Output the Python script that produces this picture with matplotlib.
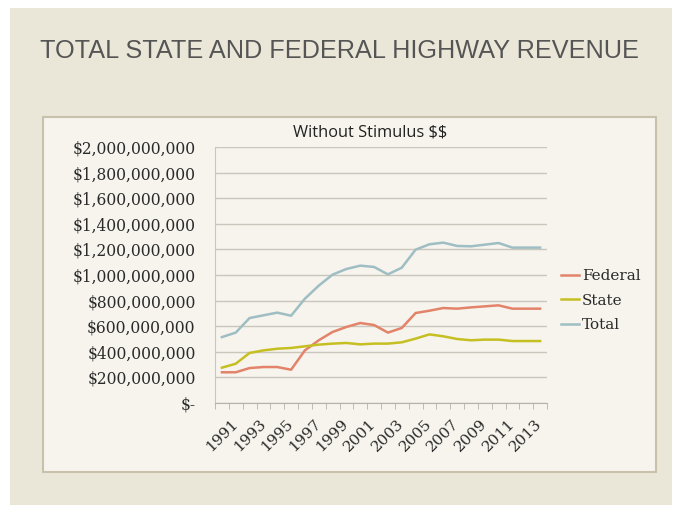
import matplotlib.pyplot as plt
from matplotlib.patches import Rectangle
from matplotlib.ticker import FuncFormatter

plt.rcParams['text.parse_math'] = False

# data ($ millions)
years = list(range(1991, 2015))
federal = [240, 240, 273, 281, 281, 260, 411, 490, 555, 594, 625, 609,
           550, 586, 703, 721, 742, 737, 747, 755, 763, 737, 737, 737]
state = [276, 307, 391, 411, 424, 430, 443, 456, 464, 469, 458, 464,
         464, 474, 503, 536, 521, 500, 490, 495, 495, 484, 484, 484]
total = [515, 550, 664, 685, 706, 682, 815, 917, 1003, 1047, 1073, 1063,
         1005, 1057, 1198, 1240, 1253, 1227, 1224, 1237, 1250, 1214, 1214, 1214]
series_names = ['Federal', 'State', 'Total']
colors = ['#e2836a', '#c6bf22', '#9fbec3']

W, H = 682, 515
fig = plt.figure(figsize=(W / 100, H / 100), dpi=100, facecolor='white')

# slide background and chart box (pixel coords -> figure fraction)
def box(x0, y0, x1, y1, **kw):
    r = Rectangle((x0 / W, 1 - y1 / H), (x1 - x0) / W, (y1 - y0) / H,
                  transform=fig.transFigure, **kw)
    fig.patches.append(r)

box(10, 8, 672, 505, facecolor='#ebe7d8', edgecolor='none', zorder=-3)
box(43, 117, 656, 472, facecolor='#f6f4ed', edgecolor='#c8c2ad', lw=1.5, zorder=-2)

fig.text(40 / W, 1 - 51 / H, 'TOTAL STATE AND FEDERAL HIGHWAY REVENUE',
         fontsize=18.2, color='#555555', family='Liberation Sans',
         va='center', ha='left')
fig.text(370 / W, 1 - 133 / H, 'Without Stimulus $$', fontsize=11.8,
         color='#222222', family='Open Sans', ha='center', va='center')

ax = fig.add_axes([215 / W, 1 - 403 / H, 332 / W, 256 / H])
ax.set_facecolor('none')
x = list(range(len(years)))
for vals, name, c in zip([federal, state, total], series_names, colors):
    ax.plot(x, [v * 1e6 for v in vals], color=c, lw=1.8, label=name)

ax.set_xlim(-0.5, len(years) - 0.5)
ax.set_ylim(0, 2e9)
ax.set_yticks([i * 2e8 for i in range(11)])

def money(v, pos):
    if v == 0:
        return '$-'
    return '${:,.0f}'.format(v)

ax.yaxis.set_major_formatter(FuncFormatter(money))
ax.grid(axis='y', color='#c9c6bc', lw=1)
ax.set_axisbelow(True)
for s in ['top', 'right']:
    ax.spines[s].set_visible(False)
ax.spines['left'].set_color('#c9c6bc')
ax.spines['bottom'].set_color('#b5b2a8')
ax.tick_params(axis='y', length=0, pad=14, labelsize=11.2, labelcolor='#2a2a2a')
for t in ax.get_yticklabels():
    t.set_family('DejaVu Serif')

ax.set_xticks(x[::2])
ax.set_xticklabels([str(y) for y in years[::2]], rotation=45, ha='center',
                   va='top', family='DejaVu Serif', fontsize=11,
                   color='#2a2a2a')
ax.set_xticks([i - 0.5 for i in range(len(years) + 1)], minor=True)
ax.tick_params(axis='x', which='major', length=0, pad=10)
ax.tick_params(axis='x', which='minor', length=4, color='#b5b2a8')

leg = ax.legend(loc='center left', bbox_to_anchor=(1.0, 0.4), frameon=False,
                prop={'family': 'DejaVu Serif', 'size': 11}, handlelength=1.2,
                handletextpad=0.2, labelspacing=0.7)
for t in leg.get_texts():
    t.set_color('#2a2a2a')

fig.savefig('out.png', dpi=100, facecolor='white')
